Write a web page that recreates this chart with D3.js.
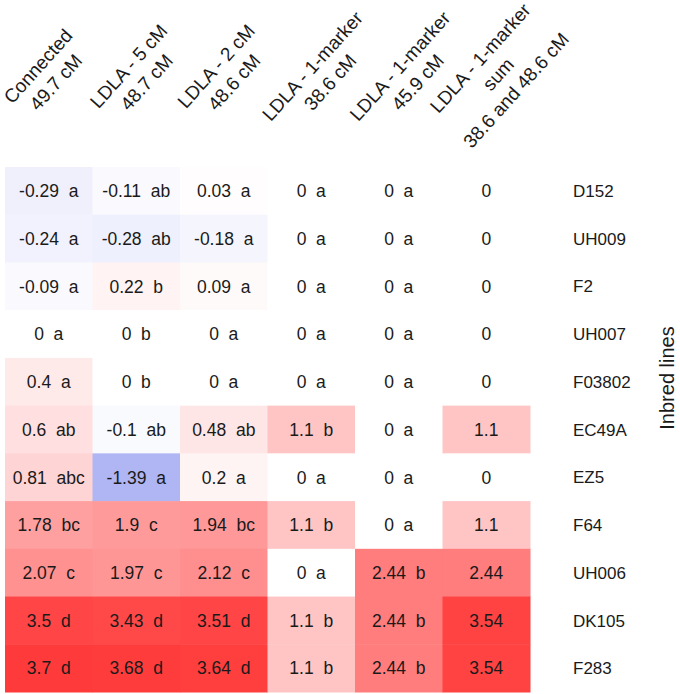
<!DOCTYPE html>
<html>
<head>
<meta charset="utf-8">
<script src="https://cdn.jsdelivr.net/npm/d3@7"></script>
<style>
  html, body { margin: 0; padding: 0; background: #fff; }
  text { font-family: "Liberation Sans", Arial, Helvetica, sans-serif; fill: #1a1a1a; }
</style>
</head>
<body>
<svg id="chart" width="680" height="694"></svg>
<script>
const rows = ["D152","UH009","F2","UH007","F03802","EC49A","EZ5","F64","UH006","DK105","F283"];
const columns = ["connected","ldla5","ldla2","m386","m459","sum"];
const columnLabels = [
  ["Connected","49.7 cM"],
  ["LDLA - 5 cM","48.7 cM"],
  ["LDLA - 2 cM","48.6 cM"],
  ["LDLA - 1-marker","38.6 cM"],
  ["LDLA - 1-marker","45.9 cM"],
  ["LDLA - 1-marker","sum","38.6 and 48.6 cM"]
];
const connectedValues = [-0.29,-0.24,-0.09,0,0.4,0.6,0.81,1.78,2.07,3.5,3.7];
const connectedLetters = ["a","a","a","a","a","ab","abc","bc","c","d","d"];
const ldla5Values = [-0.11,-0.28,0.22,0,0,-0.1,-1.39,1.9,1.97,3.43,3.68];
const ldla5Letters = ["ab","ab","b","b","b","ab","a","c","c","d","d"];
const ldla2Values = [0.03,-0.18,0.09,0,0,0.48,0.2,1.94,2.12,3.51,3.64];
const ldla2Letters = ["a","a","a","a","a","ab","a","bc","c","d","d"];
const m386Values = [0,0,0,0,0,1.1,0,1.1,0,1.1,1.1];
const m386Letters = ["a","a","a","a","a","b","a","b","a","b","b"];
const m459Values = [0,0,0,0,0,0,0,0,2.44,2.44,2.44];
const m459Letters = ["a","a","a","a","a","a","a","a","b","b","b"];
const sumValues = [0,0,0,0,0,1.1,0,1.1,2.44,3.54,3.54];
const sumLetters = ["","","","","","","","","","",""];
const axisTitle = "Inbred lines";

const seriesValues = [connectedValues, ldla5Values, ldla2Values, m386Values, m459Values, sumValues];
const seriesLetters = [connectedLetters, ldla5Letters, ldla2Letters, m386Letters, m459Letters, sumLetters];

const cells = [];
columns.forEach((c, ci) => {
  rows.forEach((r, ri) => {
    cells.push({col: c, row: r, value: seriesValues[ci][ri], letter: seriesLetters[ci][ri]});
  });
});

const svg = d3.select("#chart");
const x = d3.scaleBand().domain(columns).range([5, 530]).padding(0);
const y = d3.scaleBand().domain(rows).range([167, 692]).padding(0);
const color = d3.scaleLinear().domain([-4.5, 0, 4.8]).range(["#000fd8", "#ffffff", "#ff0000"]).clamp(true);

const g = svg.append("g");
g.selectAll("rect.cell").data(cells).join("rect")
  .attr("class", "cell")
  .attr("x", d => x(d.col))
  .attr("y", d => y(d.row))
  .attr("width", x.bandwidth() + 0.5)
  .attr("height", y.bandwidth() + 0.5)
  .attr("fill", d => color(d.value));

g.selectAll("text.val").data(cells).join("text")
  .attr("class", "val")
  .attr("x", d => x(d.col) + x.bandwidth() / 2)
  .attr("y", d => y(d.row) + y.bandwidth() / 2)
  .attr("dy", "0.36em")
  .attr("text-anchor", "middle")
  .attr("font-size", 17.5)
  .style("white-space", "pre")
  .text(d => d.letter ? `${d.value}  ${d.letter}` : `${d.value}`);

// row labels
svg.append("g").selectAll("text").data(rows).join("text")
  .attr("x", 573)
  .attr("y", d => y(d) + y.bandwidth() / 2)
  .attr("dy", "0.36em")
  .attr("font-size", 17)
  .text(d => d);

// right axis title
svg.append("text")
  .attr("transform", "translate(667,378) rotate(-90)")
  .attr("text-anchor", "middle")
  .attr("dy", "0.36em")
  .attr("font-size", 20)
  .text(axisTitle);

// column headers
const lineH = 24;
columns.forEach((c, ci) => {
  const lines = columnLabels[ci];
  const hg = svg.append("g");
  const inner = hg.append("g").attr("transform", "rotate(-48)");
  let w = 0;
  lines.forEach((ln, li) => {
    const t = inner.append("text")
      .attr("x", 0)
      .attr("y", (li - (lines.length - 1) / 2) * lineH)
      .attr("dy", "0.36em")
      .attr("text-anchor", "middle")
      .attr("font-size", 19)
      .text(ln);
    w = Math.max(w, t.node().getComputedTextLength());
  });
  const cx = x(c) + x.bandwidth() / 2 + 0.25 * (w - 100);
  hg.attr("transform", `translate(${cx},74)`);
});
</script>
</body>
</html>
